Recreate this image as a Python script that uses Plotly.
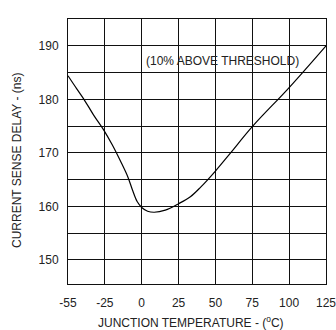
import numpy as np
import plotly.graph_objects as go

# tick labels (equally spaced on the chart)
x_tick_temps = [-55, -25, 0, 25, 50, 75, 100, 125]
y_tick_vals = [150, 155, 160, 165, 170, 175, 180, 185, 190]
y_tick_text = ["150", "", "160", "", "170", "", "180", "", "190"]

# curve: junction temperature (C) vs current sense delay (ns)
temps = [-55, -48, -42, -34, -26, -20, -13.6, -9.4, -6.2, -3.1, 0, 4, 8.5, 16, 25, 33, 40, 50, 60, 75, 100, 125]
delay = [184.4, 182.0, 180.0, 177.0, 174.3, 171.5, 168.0, 165.5, 163.0, 160.9, 159.8, 159.1, 158.9, 159.3, 160.5, 161.8, 163.6, 166.6, 169.9, 174.9, 182.2, 190.0]

tick_pos = list(range(len(x_tick_temps)))
x_pos = np.interp(temps, x_tick_temps, tick_pos)

FONT = "Liberation Sans, Arial, sans-serif"
TXT = "#222222"
FS = 12

# plot area in pixels
L, R, T, B = 68, 336, 19, 284


def px(x):
    return (x - L) / (R - L)


def py(y):
    return (B - y) / (B - T)


fig = go.Figure()
fig.add_trace(go.Scatter(x=x_pos, y=delay, mode="lines",
                         line=dict(color="#000000", width=1.2, shape="spline", smoothing=1.0),
                         showlegend=False, hoverinfo="skip"))

fig.update_layout(
    width=336, height=330,
    margin=dict(l=L, r=336 - R, t=T, b=330 - B),
    paper_bgcolor="white", plot_bgcolor="white",
    font=dict(family=FONT, size=FS, color=TXT),
    xaxis=dict(range=[0, 7], tickvals=tick_pos, ticktext=[str(t) for t in x_tick_temps],
               showgrid=True, gridcolor="#111111", gridwidth=1, zeroline=False,
               showline=True, linecolor="#111111", linewidth=1, mirror=True,
               ticks="", ticklabelstandoff=8, ticklabeloverflow="allow",
               tickfont=dict(size=FS, color=TXT)),
    yaxis=dict(range=[145.5, 195], tickvals=y_tick_vals, ticktext=y_tick_text,
               showgrid=True, gridcolor="#111111", gridwidth=1, zeroline=False,
               showline=True, linecolor="#111111", linewidth=1, mirror=True,
               ticks="", ticklabelstandoff=6, tickfont=dict(size=FS, color=TXT)),
    annotations=[
        dict(x=px(228.5), y=187.2, xref="paper", yref="y", text="(10% ABOVE THRESHOLD)",
             showarrow=False, font=dict(size=FS, color=TXT), xanchor="center", yanchor="middle"),
        dict(x=px(195.5), y=py(322), xref="paper", yref="paper",
             text="JUNCTION TEMPERATURE - (<sup>o</sup>C)", showarrow=False,
             font=dict(size=FS, color=TXT), xanchor="center", yanchor="middle"),
        dict(x=px(15), y=py(160), xref="paper", yref="paper",
             text="CURRENT SENSE DELAY - (ns)", showarrow=False, textangle=-90,
             font=dict(size=FS, color=TXT), xanchor="center", yanchor="middle"),
    ],
)

fig.write_html("out.html")
